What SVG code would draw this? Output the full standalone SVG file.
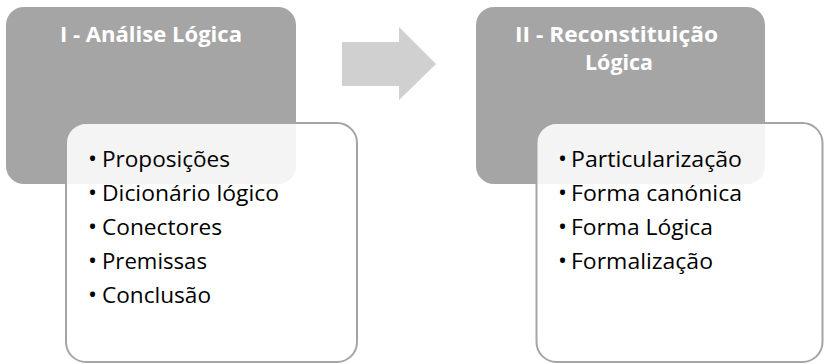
<svg xmlns="http://www.w3.org/2000/svg" width="824" height="364" viewBox="0 0 824 364">
  <style>
    .stage { fill: #a5a5a5; }
    .detail { fill: #ffffff; fill-opacity: 0.88; stroke: #a5a5a5; stroke-width: 2; }
    .title { font-family: "Open Sans", "Noto Sans", sans-serif; font-weight: bold; font-size: 21px; fill: #ffffff; }
    .item { font-family: "Open Sans", "Noto Sans", sans-serif; font-size: 21.5px; fill: #000000; }
    .bullet { font-size: 24px; }
    .flow { fill: #d0d0d0; }
  </style>

  <!-- Stage I: logical analysis -->
  <g id="stage-1">
    <rect class="stage" x="6" y="7" width="290" height="177" rx="18" ry="18"/>
    <text class="title" x="60" y="42" textLength="182" lengthAdjust="spacingAndGlyphs">I - Análise Lógica</text>
  </g>
  <g id="stage-1-items">
    <rect class="detail" x="66" y="123" width="291" height="239" rx="20" ry="20"/>
    <text class="item" y="167"><tspan class="bullet" x="88">•</tspan><tspan x="102" textLength="128" lengthAdjust="spacingAndGlyphs">Proposições</tspan></text>
    <text class="item" y="201"><tspan class="bullet" x="88">•</tspan><tspan x="102" textLength="177" lengthAdjust="spacingAndGlyphs">Dicionário lógico</tspan></text>
    <text class="item" y="235"><tspan class="bullet" x="88">•</tspan><tspan x="102" textLength="120" lengthAdjust="spacingAndGlyphs">Conectores</tspan></text>
    <text class="item" y="269"><tspan class="bullet" x="88">•</tspan><tspan x="102" textLength="105" lengthAdjust="spacingAndGlyphs">Premissas</tspan></text>
    <text class="item" y="303"><tspan class="bullet" x="88">•</tspan><tspan x="102" textLength="109" lengthAdjust="spacingAndGlyphs">Conclusão</tspan></text>
  </g>

  <!-- Stage II: logical reconstruction -->
  <g id="stage-2">
    <rect class="stage" x="476" y="7" width="289" height="177" rx="18" ry="18"/>
    <text class="title" x="515" y="42" textLength="203" lengthAdjust="spacingAndGlyphs">II - Reconstituição</text>
    <text class="title" x="585" y="70" textLength="68" lengthAdjust="spacingAndGlyphs">Lógica</text>
  </g>
  <g id="stage-2-items">
    <rect class="detail" x="536.5" y="123" width="286" height="239" rx="20" ry="20"/>
    <text class="item" y="167"><tspan class="bullet" x="558">•</tspan><tspan x="571" textLength="171" lengthAdjust="spacingAndGlyphs">Particularização</tspan></text>
    <text class="item" y="201"><tspan class="bullet" x="558">•</tspan><tspan x="571" textLength="171" lengthAdjust="spacingAndGlyphs">Forma canónica</tspan></text>
    <text class="item" y="235"><tspan class="bullet" x="558">•</tspan><tspan x="571" textLength="142" lengthAdjust="spacingAndGlyphs">Forma Lógica</tspan></text>
    <text class="item" y="269"><tspan class="bullet" x="558">•</tspan><tspan x="571" textLength="142" lengthAdjust="spacingAndGlyphs">Formalização</tspan></text>
  </g>

  <!-- Connector between the stages -->
  <g id="connectors">
    <polygon class="flow" points="342,42 399,42 399,27 436,64 399,100 399,86 342,86"/>
  </g>
</svg>
